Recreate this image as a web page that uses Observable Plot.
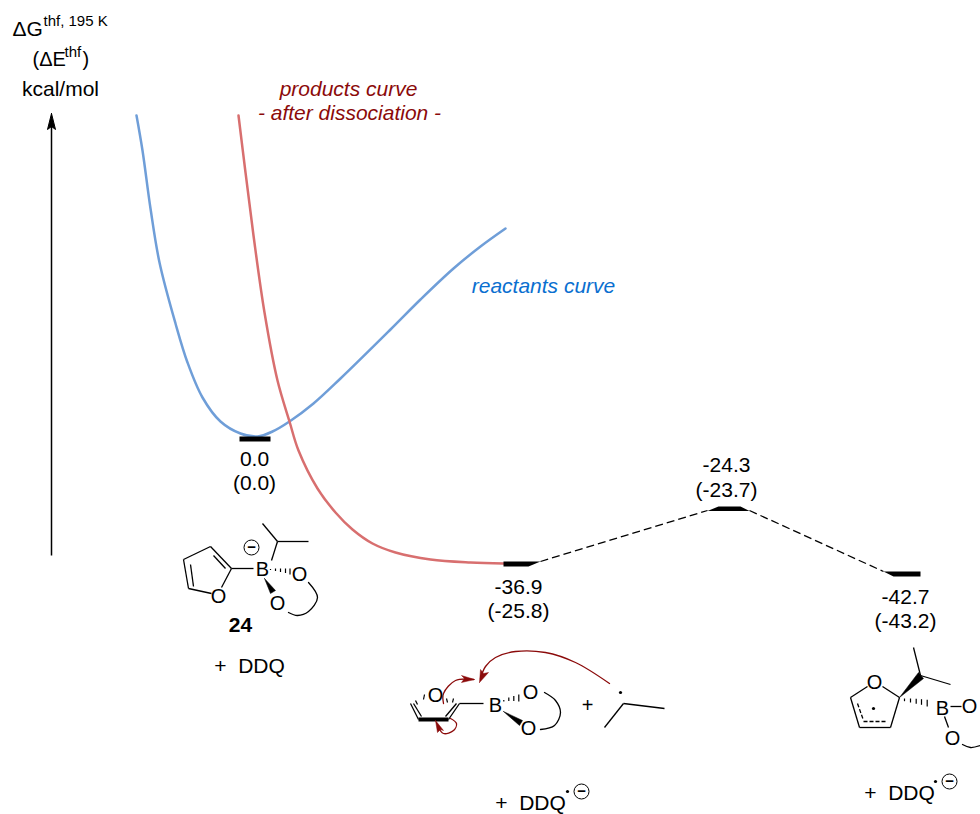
<!DOCTYPE html>
<html><head><meta charset="utf-8">
<script src="https://cdn.jsdelivr.net/npm/d3@7"></script>
<script src="https://cdn.jsdelivr.net/npm/@observablehq/plot@0.6"></script>
<style>html,body{margin:0;padding:0;background:#fff}svg{display:block}</style>
</head><body><div id="chart"></div>
<script>
const reactantsCurve = [[136,115],[142,150],[150,208],[159,262],[175,323],[187,362],[202,397],[220,421],[240,433],[257,436],[272,431],[289,421],[313,403],[340,378],[390,329],[420,299],[453,268],[480,246],[505,228]];
const productsCurve = [[238,115],[245,172],[253,235],[264,312],[277,380],[289,421],[298,450],[317,488],[335,512],[352,529],[372,543],[395,552],[430,559],[470,562],[503,563]];
const levelShapes = [
 [[239,436],[270,436],[270,441],[239,441]],
 [[503,561],[540,561],[528,566],[503,566]],
 [[707,510.5],[718,506],[740,506],[749,510.5]],
 [[883,571],[920,571],[920,576],[893,576]]
];
const connectors = [[540,561,707,510],[749,510,883,571]];
const axisArrow = [[51,555,51,125]];
const axisHead = [[51,113],[47,129],[51,126],[55,129]];
// [text, x, y, size, weight, style, colour, anchor]
const labels = [
 ["ΔG",12,29,21,"normal","normal","#000","start"],
 ["thf, 195 K",43,21,15,"normal","normal","#000","start"],
 ["(ΔE",32,59,20,"normal","normal","#000","start"],
 ["thf",64,52,15,"normal","normal","#000","start"],
 [")",82,59,20,"normal","normal","#000","start"],
 ["kcal/mol",60,89,21,"normal","normal","#000","middle"],
 ["products curve",348,89,21,"normal","italic","#8b0a0a","middle"],
 ["- after dissociation -",349,113,21,"normal","italic","#8b0a0a","middle"],
 ["reactants curve",543,286,21,"normal","italic","#0a6fd0","middle"],
 ["0.0",254,459,21,"normal","normal","#000","middle"],
 ["(0.0)",254,483,21,"normal","normal","#000","middle"],
 ["-36.9",518,587,21,"normal","normal","#000","middle"],
 ["(-25.8)",518,611,21,"normal","normal","#000","middle"],
 ["-24.3",726,465,21,"normal","normal","#000","middle"],
 ["(-23.7)",726,490,21,"normal","normal","#000","middle"],
 ["-42.7",905,597,21,"normal","normal","#000","middle"],
 ["(-43.2)",905,621,21,"normal","normal","#000","middle"],
 ["24",240,625,21,"bold","normal","#000","middle"],
 ["+  DDQ",249,666,21,"normal","normal","#000","middle"],
 ["+  DDQ",530,803,21,"normal","normal","#000","middle"],
 ["+  DDQ",899,793,21,"normal","normal","#000","middle"],
 ["B",262,569,20,"normal","normal","#000","middle"],
 ["O",218,596,20,"normal","normal","#000","middle"],
 ["O",299,574,20,"normal","normal","#000","middle"],
 ["O",277,603,20,"normal","normal","#000","middle"],
 ["B",495,705,20,"normal","normal","#000","middle"],
 ["O",435,695,20,"normal","normal","#000","middle"],
 ["O",530,692,20,"normal","normal","#000","middle"],
 ["O",528,728,20,"normal","normal","#000","middle"],
 ["+",587,705,20,"normal","normal","#000","middle"],
 ["O",874,682,20,"normal","normal","#000","middle"],
 ["B",942,708,20,"normal","normal","#000","middle"],
 ["O",969,706,20,"normal","normal","#000","middle"],
 ["O",952,738,20,"normal","normal","#000","middle"],
 ["−",251,547,15,"bold","normal","#000","middle"],
 ["−",581,791,15,"bold","normal","#000","middle"],
 ["−",949,781,15,"bold","normal","#000","middle"]
];
const thinBonds = [
 [231,568,221,587],[211,593,188,588],[188,588,183,559],[183,559,210,546],[210,546,231,568],
 [193,586,190,564],[213,555,225,568],
 [231,568,253,568],[271,560,277,541],[277,541,308,541],[277,541,262,523],
 [410,703,418,719],[413,703,421,716],[448,719,459,703],[445,716,456,703],[459,703,483,703],
 [604,727,623,703],[623,703,664,708],
 [850,697,867,686],[850,697,859,727],[859,727,890,727],[890,727,899,697],[899,697,882,686],
 [920,675,913,647],[920,675,950,684],[950,706,961,706],[944,716,948,727]
];
const thickBonds = [[418,719,448,719]];
const dashedBonds = [[857,703,863,720],[863,721,887,721]];
const hashTicks = [
 [270,568.5,270,569.5],[275,568,275,570.5],[280,568,280,571.5],[285,568,285,572.5],[289.5,568,289.5,574],
 [503.3,699.5,503.3,701],[508.3,697,508.3,700.5],[513.3,695.5,513.3,700.5],[518.3,694,518.3,701],
 [904,698,904,700.7],[910,698,910,702],[915.7,698.3,915.7,703.3],[921,698.7,921,704.3],[926.7,699.3,926.7,706],
 [424,694,423,699],[415,700,417,704],[446,698,447,702],[453,698,452,702]
];
const wedges = [
 [[264,578],[270,593],[275,590]],
 [[503,711],[519,725],[522,720]],
 [[899,697],[918,672],[923,678]]
];
const ringArcs = [
 [[308,582],[317,597],[308,611],[297,615],[288,612]],
 [[544,692],[555,700],[560,712],[554,725],[540,729]],
 [[962,744],[970,747],[980,745]]
];
const minusCircles = [[251,547],[581,791],[949,781]];
const radicalDots = [[620,692],[567,791],[873,708],[935,781]];
const redArrows = [
 [[609,683],[575,662],[545,652],[515,651],[495,657],[485,666],[480,678]],
 [[443,703],[443,693],[455,680],[473,679]],
 [[450,718],[456,723],[453,730],[443,733],[437,725]]
];
const redHeads = [
 [[479,682],[480,669],[483,673],[488,672]],
 [[474,679],[461,675],[464,678],[461,682]],
 [[435,720],[437,732],[440,729],[443,730]]
];

const seg = a => a.map(([x1,y1,x2,y2]) => ({x1,y1,x2,y2}));
const link = (a, o) => Plot.link(seg(a), {x1:"x1", y1:"y1", x2:"x2", y2:"y2", ...o});
const poly = (p, o) => Plot.line([...p, p[0]], {x:"0", y:"1", curve:"linear", ...o});

const chart = Plot.plot({
  width: 980, height: 814, margin: 0,
  style: {fontFamily: "'Liberation Sans', Arial, sans-serif", background: "#fff"},
  x: {domain: [0, 980], range: [0, 980], axis: null},
  y: {domain: [0, 814], range: [0, 814], axis: null},
  marks: [
    Plot.line(reactantsCurve, {x:"0", y:"1", curve:"catmull-rom", stroke:"#6f9ed8", strokeWidth:2.5}),
    Plot.line(productsCurve, {x:"0", y:"1", curve:"catmull-rom", stroke:"#d86f6f", strokeWidth:2.5}),
    link(connectors, {stroke:"#000", strokeWidth:1.3, strokeDasharray:"8,4"}),
    ...levelShapes.map(s => poly(s, {fill:"#000", stroke:"none"})),
    link(axisArrow, {stroke:"#000", strokeWidth:1.5}),
    poly(axisHead, {fill:"#000", stroke:"#000", strokeWidth:1}),
    link(thinBonds, {stroke:"#000", strokeWidth:1.3}),
    link(thickBonds, {stroke:"#000", strokeWidth:4}),
    link(dashedBonds, {stroke:"#000", strokeWidth:1.3, strokeDasharray:"4,2"}),
    link(hashTicks, {stroke:"#000", strokeWidth:1.2}),
    ...wedges.map(w => poly(w, {fill:"#000", stroke:"#000", strokeWidth:0.5})),
    ...ringArcs.map(a => Plot.line(a, {x:"0", y:"1", curve:"catmull-rom", stroke:"#000", strokeWidth:1.3})),
    ...redArrows.map(a => Plot.line(a, {x:"0", y:"1", curve:"catmull-rom", stroke:"#8b0a0a", strokeWidth:1.3})),
    ...redHeads.map(h => poly(h, {fill:"#8b0a0a", stroke:"#8b0a0a", strokeWidth:0.5})),
    Plot.dot(minusCircles, {x:"0", y:"1", r:7.5, stroke:"#000", strokeWidth:1, fill:"#fff"}),
    Plot.dot(radicalDots, {x:"0", y:"1", r:1.6, fill:"#000"}),
    ...labels.map(([t,x,y,size,weight,style,color,anchor]) =>
      Plot.text([{t,x,y}], {x:"x", y:"y", text:"t", fontSize:size, fontWeight:weight, fontStyle:style, fill:color, textAnchor:anchor, lineAnchor:"middle"}))
  ]
});
document.getElementById("chart").appendChild(chart);
</script></body></html>
